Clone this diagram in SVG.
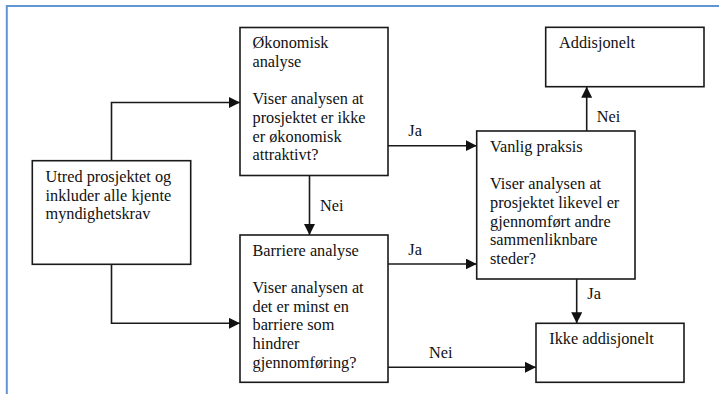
<svg xmlns="http://www.w3.org/2000/svg" width="719" height="394" viewBox="0 0 719 394">
<style>
.box{fill:#fff;stroke:#1a1a1a;stroke-width:1.6}
.t{font-size:16.3px;fill:#111}
.c{fill:none;stroke:#1a1a1a;stroke-width:1.6;marker-end:url(#arr)}
</style>
<defs>
<marker id="arr" markerUnits="userSpaceOnUse" markerWidth="12" markerHeight="12" refX="11" refY="5.5" orient="auto">
<path d="M0,0 L11,5.5 L0,11 z" fill="#111"/>
</marker>
</defs>
<rect width="719" height="394" fill="#fff"/>
<path d="M6.8,394 V6 H719" fill="none" stroke="#5f95d5" stroke-width="2"/>
<g font-family="'Liberation Serif', Tinos, 'Times New Roman', 'DejaVu Serif', serif">
<g id="connectors">
<path class="c" d="M111.5,160.7 V102.5 H240"/>
<path class="c" d="M111.5,264.3 V323.3 H240"/>
<path class="c" d="M309.5,175.5 V235"/>
<path class="c" d="M388,145.7 H476.7"/>
<path class="c" d="M388,264 H476.7"/>
<path class="c" d="M388,367.3 H536"/>
<path class="c" d="M586.7,131 V86.7"/>
<path class="c" d="M576.7,279 V323.3"/>
<text class="t" x="408.3" y="136">Ja</text>
<text class="t" x="320" y="210.7">Nei</text>
<text class="t" x="408.3" y="255">Ja</text>
<text class="t" x="429" y="358">Nei</text>
<text class="t" x="596.7" y="121.7">Nei</text>
<text class="t" x="587.3" y="299.3">Ja</text>
</g>
<g id="utred">
<rect class="box" x="32.3" y="160.7" width="158.4" height="103.6"/>
<text class="t" x="45.5" y="182.3">Utred prosjektet og</text>
<text class="t" x="45.5" y="200.7">inkluder alle kjente</text>
<text class="t" x="45.5" y="219">myndighetskrav</text>
</g>
<g id="okonomisk">
<rect class="box" x="240" y="27.5" width="148" height="148"/>
<text class="t" x="252.5" y="48">Økonomisk</text>
<text class="t" x="252.5" y="66.7">analyse</text>
<text class="t" x="252.5" y="104.1">Viser analysen at</text>
<text class="t" x="252.5" y="122.8">prosjektet er ikke</text>
<text class="t" x="252.5" y="141.5">er økonomisk</text>
<text class="t" x="252.5" y="160.2">attraktivt?</text>
</g>
<g id="barriere">
<rect class="box" x="240" y="235" width="148" height="147.3"/>
<text class="t" x="252.5" y="255.5">Barriere analyse</text>
<text class="t" x="252.5" y="292.9">Viser analysen at</text>
<text class="t" x="252.5" y="311.6">det er minst en</text>
<text class="t" x="252.5" y="330.3">barriere som</text>
<text class="t" x="252.5" y="349">hindrer</text>
<text class="t" x="252.5" y="367.7">gjennomføring?</text>
</g>
<g id="vanlig">
<rect class="box" x="476.7" y="131" width="158.3" height="148"/>
<text class="t" x="490" y="151.7">Vanlig praksis</text>
<text class="t" x="490" y="189.1">Viser analysen at</text>
<text class="t" x="490" y="207.8">prosjektet likevel er</text>
<text class="t" x="490" y="226.5">gjennomført andre</text>
<text class="t" x="490" y="245.2">sammenliknbare</text>
<text class="t" x="490" y="263.9">steder?</text>
</g>
<g id="addisjonelt">
<rect class="box" x="545.7" y="27.3" width="158.3" height="59.4"/>
<text class="t" x="559" y="48.3">Addisjonelt</text>
</g>
<g id="ikke">
<rect class="box" x="536" y="323.3" width="148" height="59"/>
<text class="t" x="549.3" y="344">Ikke addisjonelt</text>
</g>
</g>
</svg>
